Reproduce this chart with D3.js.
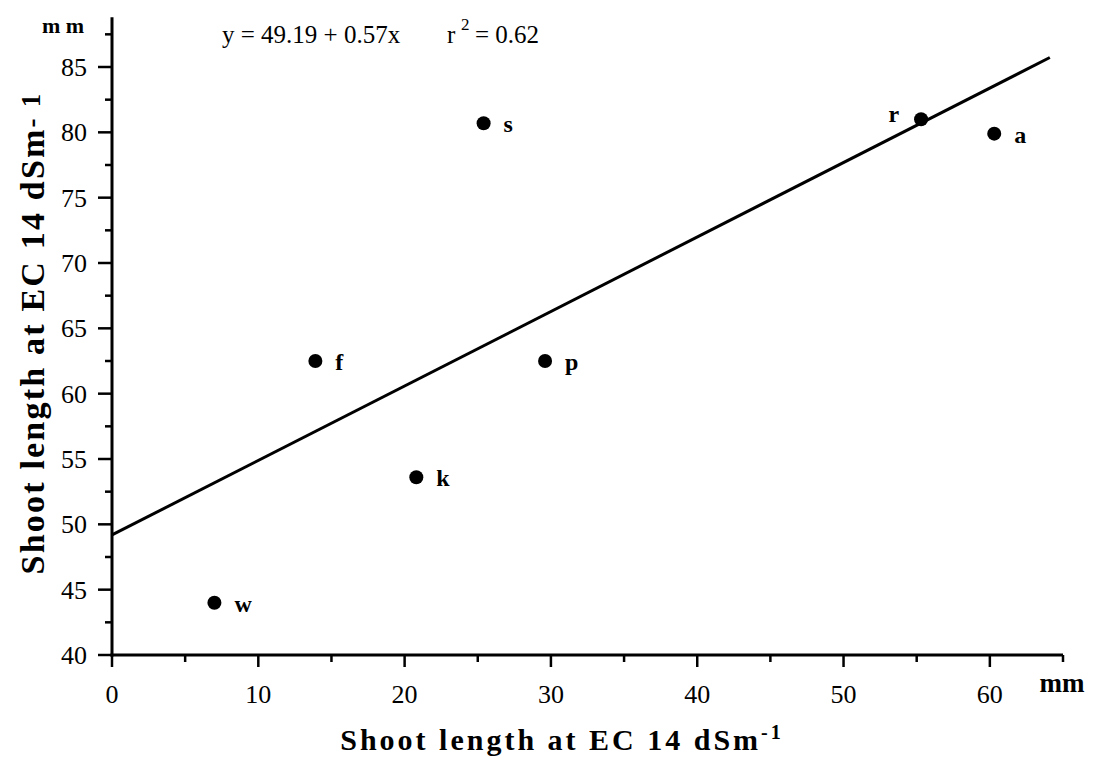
<!DOCTYPE html>
<html>
<head>
<meta charset="utf-8">
<script src="https://cdn.jsdelivr.net/npm/d3@7"></script>
<style>
  body { margin: 0; background: #fff; }
  svg { display: block; font-family: "Liberation Serif", "Times New Roman", serif; }
  text { white-space: pre; }
</style>
</head>
<body>
<div id="chart"></div>
<script>
const width = 1095;
const height = 768;

// genotypes, x = shoot length at control (mm), y = shoot length at EC 14
const labels = ["w", "f", "k", "s", "p", "r", "a"];
const xValues = [7.0, 13.9, 20.8, 25.4, 29.6, 55.3, 60.3];
const yValues = [44.0, 62.5, 53.6, 80.7, 62.5, 81.0, 79.9];

const intercept = 49.19;
const slope = 0.57;
const lineRange = [0, 64.1];

const xTicks = [0, 10, 20, 30, 40, 50, 60];
const xMinor = [5, 15, 25, 35, 45, 55, 65];
const yTicks = [40, 45, 50, 55, 60, 65, 70, 75, 80, 85];
const yMinor = [42.5, 47.5, 52.5, 57.5, 62.5, 67.5, 72.5, 77.5, 82.5, 87.5];

const x = d3.scaleLinear().domain([0, 65]).range([112, 1063]);
const y = d3.scaleLinear().domain([40, 85]).range([655, 67]);

const svg = d3.select("#chart")
  .append("svg")
  .attr("width", width)
  .attr("height", height);

// axes
svg.append("line")
  .attr("x1", x(0) - 1.5).attr("x2", x(65))
  .attr("y1", y(40)).attr("y2", y(40))
  .attr("stroke", "#000").attr("stroke-width", 3);

svg.append("line")
  .attr("x1", x(0)).attr("x2", x(0))
  .attr("y1", y(40) + 1.5).attr("y2", y(88.8))
  .attr("stroke", "#000").attr("stroke-width", 3);

// x ticks
svg.append("g").selectAll("line")
  .data(xTicks)
  .join("line")
  .attr("x1", d => x(d)).attr("x2", d => x(d))
  .attr("y1", y(40)).attr("y2", y(40) + 12)
  .attr("stroke", "#000").attr("stroke-width", 2.5);

svg.append("g").selectAll("line")
  .data(xMinor)
  .join("line")
  .attr("x1", d => x(d)).attr("x2", d => x(d))
  .attr("y1", y(40)).attr("y2", y(40) + 7)
  .attr("stroke", "#000").attr("stroke-width", 2.5);

svg.append("g").selectAll("text")
  .data(xTicks)
  .join("text")
  .attr("x", d => x(d))
  .attr("y", 703)
  .attr("text-anchor", "middle")
  .attr("font-size", 26)
  .text(d => d);

// y ticks
svg.append("g").selectAll("line")
  .data(yTicks)
  .join("line")
  .attr("x1", x(0) - 14).attr("x2", x(0))
  .attr("y1", d => y(d)).attr("y2", d => y(d))
  .attr("stroke", "#000").attr("stroke-width", 2.5);

svg.append("g").selectAll("line")
  .data(yMinor)
  .join("line")
  .attr("x1", x(0) - 7).attr("x2", x(0))
  .attr("y1", d => y(d)).attr("y2", d => y(d))
  .attr("stroke", "#000").attr("stroke-width", 2.5);

svg.append("g").selectAll("text")
  .data(yTicks)
  .join("text")
  .attr("x", 87)
  .attr("y", d => y(d))
  .attr("dy", "0.35em")
  .attr("text-anchor", "end")
  .attr("font-size", 26)
  .text(d => d);

// units
svg.append("text")
  .attr("x", 63).attr("y", 33)
  .attr("text-anchor", "middle")
  .attr("font-size", 22).attr("font-weight", "bold")
  .text("m m");

svg.append("text")
  .attr("x", 1062).attr("y", 692)
  .attr("text-anchor", "middle")
  .attr("font-size", 27).attr("font-weight", "bold")
  .text("mm");

// regression line
svg.append("line")
  .attr("x1", x(lineRange[0])).attr("y1", y(intercept + slope * lineRange[0]))
  .attr("x2", x(lineRange[1])).attr("y2", y(intercept + slope * lineRange[1]))
  .attr("stroke", "#000").attr("stroke-width", 3);

// points
const pts = labels.map((l, i) => ({label: l, x: xValues[i], y: yValues[i]}));

svg.append("g").selectAll("circle")
  .data(pts)
  .join("circle")
  .attr("cx", d => x(d.x))
  .attr("cy", d => y(d.y))
  .attr("r", 7)
  .attr("fill", "#000");

svg.append("g").selectAll("text")
  .data(pts)
  .join("text")
  .attr("x", d => d.label === "r" ? x(d.x) - 22 : x(d.x) + 20)
  .attr("y", d => d.label === "r" ? y(d.y) + 3 : y(d.y) + 9)
  .attr("text-anchor", d => d.label === "r" ? "end" : "start")
  .attr("font-size", 24).attr("font-weight", "bold")
  .text(d => d.label);

// equation
const eq = svg.append("text")
  .attr("y", 43)
  .attr("font-size", 25);
eq.append("tspan").attr("x", 222).text("y = 49.19 + 0.57x");
eq.append("tspan").attr("x", 447).text("r");
eq.append("tspan").attr("x", 461).attr("dy", -13).attr("font-size", 17).text("2");
eq.append("tspan").attr("x", 475).attr("dy", 13).text("= 0.62");

// axis titles
const xt = svg.append("text")
  .attr("x", 562).attr("y", 750)
  .attr("text-anchor", "middle")
  .attr("font-size", 30).attr("font-weight", "bold")
  .attr("letter-spacing", 3);
xt.append("tspan").text("Shoot length at EC 14 dSm");
xt.append("tspan").attr("dy", -11).attr("font-size", 20).text("-1");

const yt = svg.append("text")
  .attr("transform", "translate(44,333) rotate(-90)")
  .attr("text-anchor", "middle")
  .attr("font-size", 34).attr("font-weight", "bold")
  .attr("letter-spacing", 2.2);
yt.append("tspan").text("Shoot length at EC 14 dSm");
yt.append("tspan").attr("dy", -4).attr("font-size", 27).text("- 1");
</script>
</body>
</html>
